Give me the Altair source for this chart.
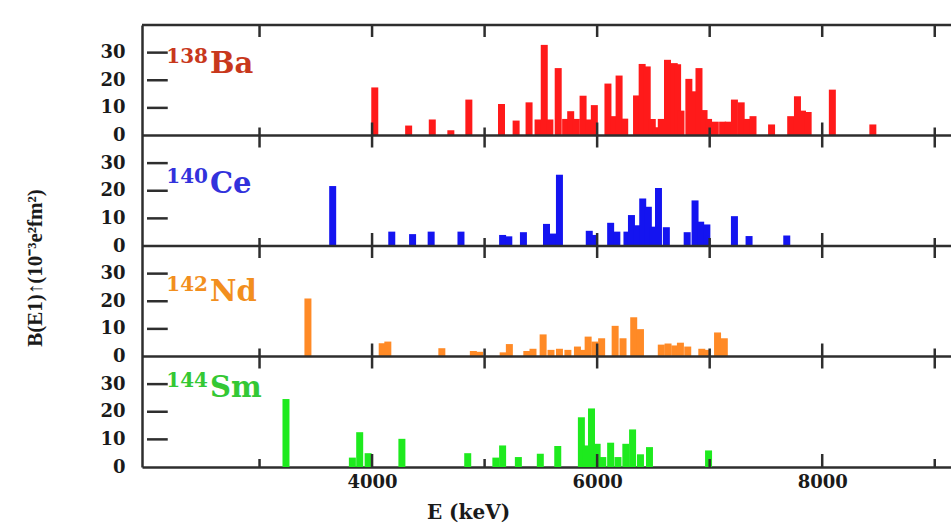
import altair as alt
import pandas as pd

# Level energies (keV) and B(E1)↑ strengths (10^-3 e^2 fm^2), one pair of lists per nucleus
ba_energy = [4024, 4325, 4535, 4700, 4860, 5150, 5280, 5395, 5475, 5530, 5580, 5654, 5720,
             5765, 5815, 5875, 5930, 5975, 6096, 6150, 6195, 6245, 6350, 6400, 6445, 6490,
             6520, 6570, 6625, 6685, 6715, 6745, 6815, 6860, 6905, 6950, 6990, 7050, 7115,
             7165, 7220, 7280, 7335, 7385, 7550, 7720, 7780, 7825, 7875, 8090, 8450]
ba_strength = [17.4, 3.6, 5.8, 1.9, 13.0, 11.4, 5.4, 12.0, 5.8, 32.8, 5.8, 24.4, 6.0,
               8.8, 6.0, 14.4, 5.8, 11.0, 18.8, 7.0, 21.7, 6.1, 14.5, 25.9, 25.0, 6.0,
               3.0, 6.0, 27.4, 26.2, 25.8, 9.0, 20.5, 16.0, 24.4, 9.2, 6.0, 5.0, 5.0,
               5.0, 13.0, 12.0, 6.0, 7.0, 4.0, 7.0, 14.2, 9.0, 8.5, 16.6, 4.0]

ce_energy = [3650, 4175, 4360, 4525, 4790, 5160, 5215, 5345, 5550, 5605, 5665, 5930, 5975,
             6120, 6175, 6265, 6305, 6350, 6405, 6455, 6500, 6545, 6615, 6800, 6870, 6920,
             6975, 7220, 7350, 7685]
ce_strength = [21.7, 5.2, 4.3, 5.2, 5.2, 4.0, 3.5, 5.0, 8.0, 4.5, 25.8, 5.5, 4.0,
               8.4, 5.2, 5.2, 11.2, 7.5, 17.2, 14.2, 7.0, 21.0, 6.8, 5.0, 16.5, 8.8,
               7.8, 10.8, 3.6, 3.8]

nd_energy = [3430, 4090, 4140, 4620, 4900, 4955, 5165, 5220, 5375, 5430, 5520, 5590, 5665,
             5740, 5825, 5870, 5920, 5980, 6040, 6160, 6230, 6325, 6385, 6570, 6630, 6690,
             6740, 6805, 6930, 6975, 7070, 7130]
nd_strength = [21.0, 4.8, 5.4, 3.0, 2.0, 1.7, 1.5, 4.5, 2.0, 2.8, 8.0, 2.4, 2.8,
               2.4, 3.6, 2.4, 7.2, 5.4, 6.6, 11.1, 6.6, 14.2, 9.9, 4.3, 4.7, 4.0,
               5.0, 3.6, 2.8, 2.4, 8.7, 6.6]

sm_energy = [3235, 3825, 3890, 3965, 4265, 4850, 5100, 5160, 5300, 5495, 5650, 5860, 5905,
             5950, 6000, 6050, 6120, 6185, 6255, 6315, 6385, 6465, 6990]
sm_strength = [24.6, 3.4, 12.6, 5.0, 10.2, 5.0, 3.4, 7.8, 3.6, 4.8, 7.6, 18.0, 7.8,
               21.2, 8.4, 3.6, 8.8, 3.6, 8.4, 13.6, 4.6, 7.2, 6.0]

elements = ["Ba", "Ce", "Nd", "Sm"]
mass_numbers = ["138", "140", "142", "144"]

x_tick_values = [3000, 4000, 5000, 6000, 7000, 8000, 9000]
x_label_values = [4000, 6000, 8000]
y_tick_values = [10, 20, 30]

# ---- styling / layout -------------------------------------------------------
bar_colors = ["#ff1a1a", "#1414f0", "#ff8a26", "#1eea1e"]
label_colors = ["#c8381c", "#3232dc", "#f28f1e", "#34c834"]
frame_color = "#2e2e2e"
serif = "DejaVu Serif"

PANEL = 40                      # vertical extent of one stacked panel (strength units)
N = len(elements)
Y_MAX = PANEL * N
X_MIN, X_MAX = 2000, 9100
W, H = 809, 442
PX_Y = H / Y_MAX                # pixels per strength unit
PX_X = W / (X_MAX - X_MIN)      # pixels per keV

# baseline of the nucleus name inside each panel (strength units above panel floor)
label_level = [22.6, 19.2, 20.1, 25.3]
sup_raise = 10 / PX_Y

series = [
    ("Ba", ba_energy, ba_strength),
    ("Ce", ce_energy, ce_strength),
    ("Nd", nd_energy, nd_strength),
    ("Sm", sm_energy, sm_strength),
]

def panel_floor(i):
    return (N - 1 - i) * PANEL

bar_rows = []
for i, (el, energies, strengths) in enumerate(series):
    for e, b in zip(energies, strengths):
        bar_rows.append({"element": el, "E": e, "B": b, "floor": panel_floor(i)})
bars_df = pd.DataFrame(bar_rows)

label_df = pd.DataFrame({
    "element": elements,
    "mass": mass_numbers,
    "name_y": [panel_floor(i) + label_level[i] for i in range(N)],
    "sup_y": [panel_floor(i) + label_level[i] + sup_raise for i in range(N)],
})

# inward tick marks along the top and bottom edge of every panel
top_len = 12 / PX_Y
long_len = 13 / PX_Y
short_len = 8 / PX_Y
xt_rows = []
for i in range(N):
    f = panel_floor(i)
    for v in x_tick_values:
        xt_rows.append({"E": v, "y1": f + PANEL, "y2": f + PANEL - top_len})
        up = long_len if v in x_label_values else short_len
        xt_rows.append({"E": v, "y1": f, "y2": f + up})
xticks_df = pd.DataFrame(xt_rows)

# inward tick marks on the left edge of every panel
yt_len = 21 / PX_X
yticks_df = pd.DataFrame([
    {"v": panel_floor(i) + t, "x1": X_MIN, "x2": X_MIN + yt_len}
    for i in range(N) for t in y_tick_values
])

bounds_df = pd.DataFrame({"b": [PANEL * k for k in range(1, N + 1)]})

x_scale = alt.Scale(domain=[X_MIN, X_MAX], nice=False, zero=False)
y_scale = alt.Scale(domain=[0, Y_MAX], nice=False, zero=False)


def x_axis():
    return alt.Axis(
        values=x_label_values, format="d", ticks=False, grid=False,
        domainColor=frame_color, domainWidth=2.5,
        labelFont=serif, labelFontSize=18, labelFontWeight="bold", labelColor="#1a1a1a",
        labelPadding=6,
        title="E (keV)", titleFont=serif, titleFontSize=20, titleFontWeight="bold",
        titleColor="#1a1a1a", titleX=326, titleY=45, titleBaseline="middle",
        titleAlign="center",
    )


def y_axis():
    return alt.Axis(
        values=list(range(0, Y_MAX, 10)), labelExpr="'' + (datum.value % 40)",
        ticks=False, grid=False, domainColor=frame_color, domainWidth=2.5,
        labelFont=serif, labelFontSize=18, labelFontWeight="bold", labelColor="#1a1a1a",
        labelPadding=17, title=None,
    )


def X(field):
    return alt.X(field, scale=x_scale, axis=x_axis(), title="E (keV)")


def Y(field):
    return alt.Y(field, scale=y_scale, axis=y_axis(), title=None)


bar_layer = alt.Chart(bars_df).transform_calculate(
    top="datum.floor + datum.B"
).mark_bar(size=7).encode(
    x=X("E:Q"),
    y=Y("floor:Q"),
    y2="top:Q",
    color=alt.Color("element:N", scale=alt.Scale(domain=elements, range=bar_colors), legend=None),
)

bound_layer = alt.Chart(bounds_df).mark_rule(color=frame_color, strokeWidth=2.5).encode(
    y=Y("b:Q"),
)

xtick_layer = alt.Chart(xticks_df).mark_rule(color=frame_color, strokeWidth=2.5).encode(
    x=X("E:Q"),
    y=Y("y1:Q"),
    y2="y2:Q",
)

ytick_layer = alt.Chart(yticks_df).mark_rule(color=frame_color, strokeWidth=2.5).encode(
    x=X("x1:Q"),
    x2="x2:Q",
    y=Y("v:Q"),
)

sup_layer = alt.Chart(label_df).mark_text(
    align="right", baseline="alphabetic", font=serif, fontSize=20, fontWeight="bold"
).encode(
    x=alt.value(66),
    y=Y("sup_y:Q"),
    text="mass:N",
    color=alt.Color("element:N", scale=alt.Scale(domain=elements, range=label_colors), legend=None),
)

name_layer = alt.Chart(label_df).mark_text(
    align="left", baseline="alphabetic", font=serif, fontSize=29, fontWeight="bold"
).encode(
    x=alt.value(68),
    y=Y("name_y:Q"),
    text="element:N",
    color=alt.Color("element:N", scale=alt.Scale(domain=elements, range=label_colors), legend=None),
)

ytitle_layer = alt.Chart(pd.DataFrame({"t": ["B(E1)↑(10⁻³e²fm²)"]})).mark_text(
    angle=270, align="center", baseline="middle",
    font="Liberation Serif", fontSize=21, fontWeight="bold", color="#1a1a1a",
).encode(
    x=alt.value(-106),
    y=alt.value(243),
    text="t:N",
)

chart = alt.layer(
    bar_layer, bound_layer, xtick_layer, ytick_layer, sup_layer, name_layer, ytitle_layer
).resolve_scale(
    color="independent"
).properties(
    width=W, height=H,
    autosize=alt.AutoSizeParams(type="none"),
    padding={"left": 142, "top": 25, "right": 0, "bottom": 60},
    background="white",
).configure_view(stroke=None)

chart.save("out.html", embed_options={"renderer": "svg", "actions": False})
